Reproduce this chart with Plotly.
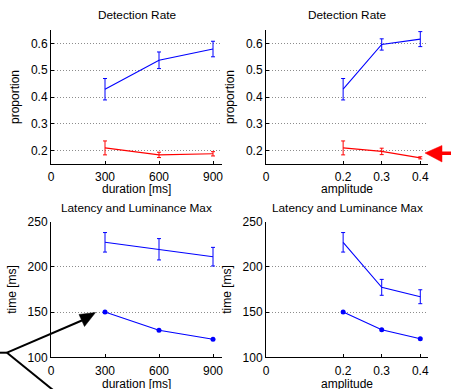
import plotly.graph_objects as go

# ---- data ----
durations = [300, 600, 900]
amplitudes = [0.2, 0.3, 0.4]

det_dur_hit = [0.429, 0.537, 0.579]
det_dur_hit_err = [0.040, 0.031, 0.029]
det_dur_fa = [0.210, 0.184, 0.188]
det_dur_fa_err = [0.026, 0.010, 0.008]

det_amp_hit = [0.429, 0.596, 0.616]
det_amp_hit_err = [0.040, 0.021, 0.028]
det_amp_fa = [0.210, 0.197, 0.173]
det_amp_fa_err = [0.026, 0.012, 0.004]

lat_dur = [227.2, 219.5, 211.3]
lat_dur_err = [10.8, 11.8, 10.3]
lum_dur = [150, 130, 120]

lat_amp = [227.2, 177.4, 167.0]
lat_amp_err = [10.8, 8.8, 7.7]
lum_amp = [150, 130.5, 120.5]

dur_ticks = [0, 300, 600, 900]
amp_ticks = [0, 0.2, 0.3, 0.4]
prop_ticks = [0.2, 0.3, 0.4, 0.5, 0.6]
time_ticks = [100, 150, 200, 250]

W, H = 451, 389
BLUE = "rgb(0,0,255)"
RED = "rgb(255,0,0)"
FONT = "Liberation Sans, Arial, sans-serif"

def fx(p):
    return p / W

def fy(p):
    return 1 - p / H

fig = go.Figure()

def err(arr):
    return dict(type="data", array=arr, visible=True, color=None, thickness=1, width=2)

def add_line(x, y, e, color, xa, ya, marker=False):
    kw = dict(x=x, y=y, xaxis=xa, yaxis=ya, showlegend=False,
              line=dict(color=color, width=1.1))
    if e is not None:
        ed = err(e)
        ed["color"] = color
        kw["error_y"] = ed
    if marker:
        kw["mode"] = "lines+markers"
        kw["marker"] = dict(color=color, size=5)
    else:
        kw["mode"] = "lines"
    fig.add_trace(go.Scatter(**kw))

add_line(durations, det_dur_hit, det_dur_hit_err, BLUE, "x", "y")
add_line(durations, det_dur_fa, det_dur_fa_err, RED, "x", "y")
add_line(amplitudes, det_amp_hit, det_amp_hit_err, BLUE, "x2", "y2")
add_line(amplitudes, det_amp_fa, det_amp_fa_err, RED, "x2", "y2")
add_line(durations, lat_dur, lat_dur_err, BLUE, "x3", "y3")
add_line(durations, lum_dur, None, BLUE, "x3", "y3", marker=True)
add_line(amplitudes, lat_amp, lat_amp_err, BLUE, "x4", "y4")
add_line(amplitudes, lum_amp, None, BLUE, "x4", "y4", marker=True)

xl = [fx(51), fx(222)]
xr = [fx(266), fx(428)]
yt = [fy(164), fy(30)]
yb = [fy(357.3), fy(221.7)]

def xaxis(dom, rng, ticks, anchor):
    return dict(domain=dom, range=rng, tickvals=ticks, ticktext=[("%g" % t) for t in ticks],
                showline=True, linecolor="black", linewidth=1, mirror=False,
                ticks="inside", ticklen=3, tickcolor="black", showgrid=False, zeroline=False,
                anchor=anchor, automargin=False, ticklabelstandoff=2,
                tickfont=dict(size=12, color="black", family=FONT))

def yaxis(dom, rng, ticks, title, anchor):
    return dict(domain=dom, range=rng, tickvals=ticks, ticktext=[("%g" % t) for t in ticks],
                showline=True, linecolor="black", linewidth=1, mirror=False,
                ticks="inside", ticklen=3, tickcolor="black",
                showgrid=True, gridcolor="rgb(140,140,140)", griddash="1px,2px", gridwidth=1,
                zeroline=False, anchor=anchor, automargin=False,
                tickfont=dict(size=12, color="black", family=FONT),
                title=dict(text=title, font=dict(size=12, color="black", family=FONT), standoff=8))

fig.update_layout(
    width=W, height=H,
    margin=dict(l=0, r=0, t=0, b=0, autoexpand=False),
    paper_bgcolor="white", plot_bgcolor="white",
    font=dict(family=FONT, color="black"),
    xaxis=xaxis(xl, [0, 950], dur_ticks, "y"),
    yaxis=yaxis(yt, [0.15, 0.65], prop_ticks, "proportion", "x"),
    xaxis2=xaxis(xr, [0, 0.42], amp_ticks, "y2"),
    yaxis2=yaxis(yt, [0.15, 0.65], prop_ticks, "proportion", "x2"),
    xaxis3=xaxis(xl, [0, 950], dur_ticks, "y3"),
    yaxis3=yaxis(yb, [100, 250], time_ticks, "time [ms]", "x3"),
    xaxis4=xaxis(xr, [0, 0.42], amp_ticks, "y4"),
    yaxis4=yaxis(yb, [100, 250], time_ticks, "time [ms]", "x4"),
)

# panel titles and x-axis titles
texts = [("Detection Rate", (51 + 222) / 2, 15, 11.8),
         ("Detection Rate", (266 + 428) / 2, 15, 11.8),
         ("Latency and Luminance Max", (51 + 222) / 2, 207.5, 11.8),
         ("Latency and Luminance Max", (266 + 428) / 2, 207.5, 11.8),
         ("duration [ms]", (51 + 222) / 2, 189, 12),
         ("amplitude", (266 + 428) / 2, 189, 12),
         ("duration [ms]", (51 + 222) / 2, 383.5, 12),
         ("amplitude", (266 + 428) / 2, 383.5, 12)]
for t, px, py, fs in texts:
    fig.add_annotation(text=t, x=fx(px), y=fy(py), xref="paper", yref="paper",
                       showarrow=False, xanchor="center", yanchor="middle",
                       font=dict(size=fs, color="black", family=FONT))

# black arrow (decoration)
def seg(x0, y0, x1, y1, color, w):
    fig.add_shape(type="line", xref="paper", yref="paper",
                  x0=fx(x0), y0=fy(y0), x1=fx(x1), y1=fy(y1),
                  line=dict(color=color, width=w))

def tri(pts, color):
    path = "M " + " L ".join("%f,%f" % (fx(a), fy(b)) for a, b in pts) + " Z"
    fig.add_shape(type="path", xref="paper", yref="paper", path=path,
                  fillcolor=color, line=dict(color=color, width=0.5))

seg(0, 352.7, 7, 352.7, "black", 2)
seg(7, 352.7, 83, 320, "black", 2)
seg(7, 352.7, 53, 390, "black", 2)
tri([(95.5, 312.5), (79, 314.5), (84.5, 326.5)], "black")

# red arrow (decoration)
tri([(425, 153), (442, 145.5), (442, 162)], RED)
fig.add_shape(type="rect", xref="paper", yref="paper",
              x0=fx(441), x1=fx(452), y0=fy(155), y1=fy(151.5),
              fillcolor=RED, line=dict(width=0))

fig.write_html(
    "out.html",
    config={"displayModeBar": False, "staticPlot": True},
    post_script="document.body.style.margin='0';document.body.style.padding='0';"
                "document.body.style.overflow='hidden';",
)
